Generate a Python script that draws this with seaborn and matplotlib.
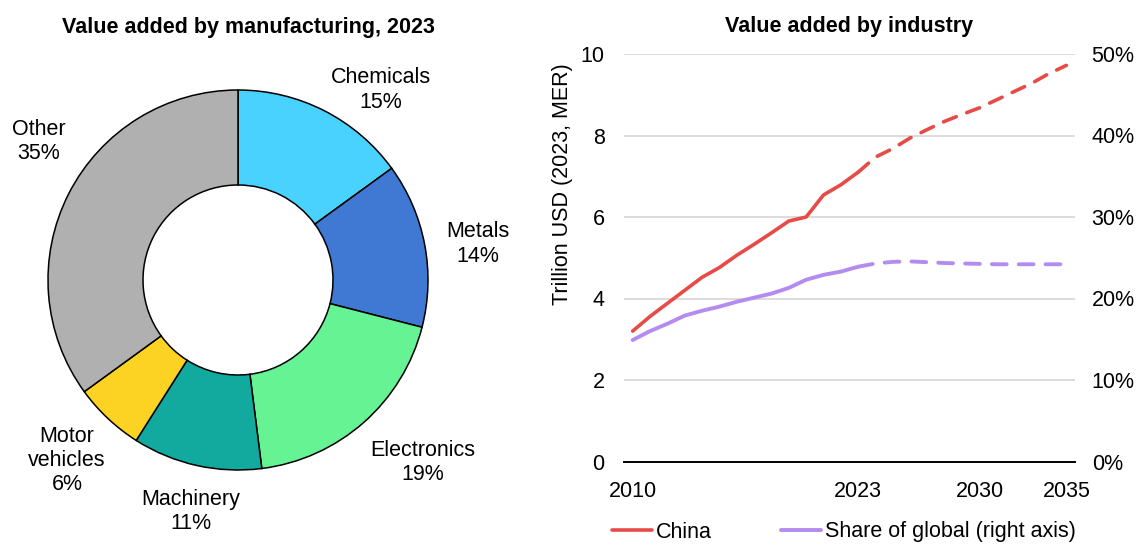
import matplotlib
matplotlib.use('Agg')
import matplotlib.pyplot as plt
import seaborn as sns
import pandas as pd
from matplotlib.ticker import FuncFormatter

sns.set_theme(style='white')
plt.rcParams['font.family'] = ['Liberation Sans', 'DejaVu Sans']
plt.rcParams['text.color'] = 'black'

# donut: value added by manufacturing, 2023
sectors = ['Chemicals', 'Metals', 'Electronics', 'Machinery', 'Motor\nvehicles', 'Other']
shares = [15, 14, 19, 11, 6, 35]
sector_colors = ['#4AD2FF', '#3F79D3', '#66F394', '#12AA9E', '#FCD323', '#AFB0AF']

# line chart: value added by industry
hist_years = list(range(2010, 2024))
china_hist = [3.20, 3.56, 3.88, 4.20, 4.52, 4.76, 5.06, 5.33, 5.61, 5.90, 6.00, 6.54, 6.79, 7.10]
share_hist = [14.9, 16.0, 16.9, 17.9, 18.5, 19.0, 19.6, 20.1, 20.6, 21.3, 22.3, 22.9, 23.3, 23.9]
proj_years = list(range(2023, 2036))
china_proj = [7.10, 7.47, 7.68, 7.94, 8.15, 8.35, 8.52, 8.68, 8.88, 9.08, 9.28, 9.52, 9.72]
share_proj = [23.9, 24.3, 24.5, 24.55, 24.45, 24.35, 24.3, 24.25, 24.2, 24.2, 24.2, 24.2, 24.2]
xtick_years = [2010, 2023, 2030, 2035]

hist = pd.DataFrame({'year': hist_years, 'china': china_hist, 'share': share_hist})
proj = pd.DataFrame({'year': proj_years, 'china': china_proj, 'share': share_proj})

red = '#E64B47'
purple = '#B48CF0'
fs = 15.5
title_fs = 15.5

fig = plt.figure(figsize=(11.38, 5.45), dpi=100)

# ---- donut ----
ax1 = fig.add_axes([0, 0, 500 / 1138, 500 / 545])
ax1.pie(shares, colors=sector_colors, startangle=90, counterclock=False,
        wedgeprops=dict(width=0.5, edgecolor='black', linewidth=1.1))
ax1.set_xlim(-238 / 190, 262 / 190)
ax1.set_ylim(-265 / 190, 235 / 190)
ax1.set_aspect('equal')
ax1.axis('off')

label_pos = [(0.75, 1.00), (1.26, 0.19), (0.97, -0.96), (-0.25, -1.22), (-0.90, -0.95), (-1.05, 0.73)]
for name, val, (lx, ly) in zip(sectors, shares, label_pos):
    ax1.text(lx, ly, f'{name}\n{val}%', ha='center', va='center', fontsize=fs,
             linespacing=1.2, color='black')

fig.text(248 / 1138, 1 - 28 / 545, 'Value added by manufacturing, 2023',
         ha='center', va='center', fontsize=title_fs, fontweight='bold', color='black')

# ---- lines ----
ax = fig.add_axes([624 / 1138, 83.5 / 545, 451 / 1138, 407.5 / 545])
ax2 = ax.twinx()

sns.lineplot(data=hist, x='year', y='china', ax=ax, color=red, lw=2.6,
             solid_capstyle='round', label='China', legend=False)
sns.lineplot(data=proj, x='year', y='china', ax=ax, color=red, lw=2.6,
             linestyle=(0, (3.8, 3.1)), dash_capstyle='round', legend=False)
sns.lineplot(data=hist, x='year', y='share', ax=ax2, color=purple, lw=2.8,
             solid_capstyle='round', label='Share of global (right axis)', legend=False)
sns.lineplot(data=proj, x='year', y='share', ax=ax2, color=purple, lw=2.8,
             linestyle=(0, (3.8, 3.1)), dash_capstyle='round', legend=False)

ax.set_xlim(2009.5, 2035.5)
ax.set_ylim(0, 10)
ax2.set_ylim(0, 50)
ax.set_yticks(range(0, 11, 2))
ax2.set_yticks(range(0, 51, 10))
ax2.yaxis.set_major_formatter(FuncFormatter(lambda v, p: f'{v:.0f}%'))
ax.set_xticks(xtick_years)
ax.set_xticklabels([str(y) for y in xtick_years])

ax.grid(axis='y', color='#D9D9D9', lw=1.3)
ax.set_axisbelow(True)
for a in (ax, ax2):
    for s in a.spines.values():
        s.set_visible(False)
ax.spines['bottom'].set_visible(True)
ax.spines['bottom'].set_color('black')
ax.spines['bottom'].set_linewidth(1.4)
ax.tick_params(axis='both', length=0, labelsize=fs, colors='black')
ax.tick_params(axis='y', pad=14)
ax.tick_params(axis='x', pad=14)
ax2.tick_params(axis='y', length=0, labelsize=fs, colors='black', pad=12)

ax.set_xlabel('')
ax2.set_ylabel('')
ax.set_ylabel('Trillion USD (2023, MER)', fontsize=fs, color='black')
ax.yaxis.set_label_coords(-0.113, 0.68)
ax.set_title('Value added by industry', fontsize=title_fs, fontweight='bold', pad=16,
             color='black')

handles = [ax.lines[0], ax2.lines[0]]
fig.legend(handles, ['China', 'Share of global (right axis)'], loc='center',
           bbox_to_anchor=(844 / 1138, 13 / 545), ncol=2, frameon=False, fontsize=fs,
           handlelength=1.85, handletextpad=0.2, columnspacing=3.2, labelcolor='black')

fig.savefig('out.png', dpi=100)
